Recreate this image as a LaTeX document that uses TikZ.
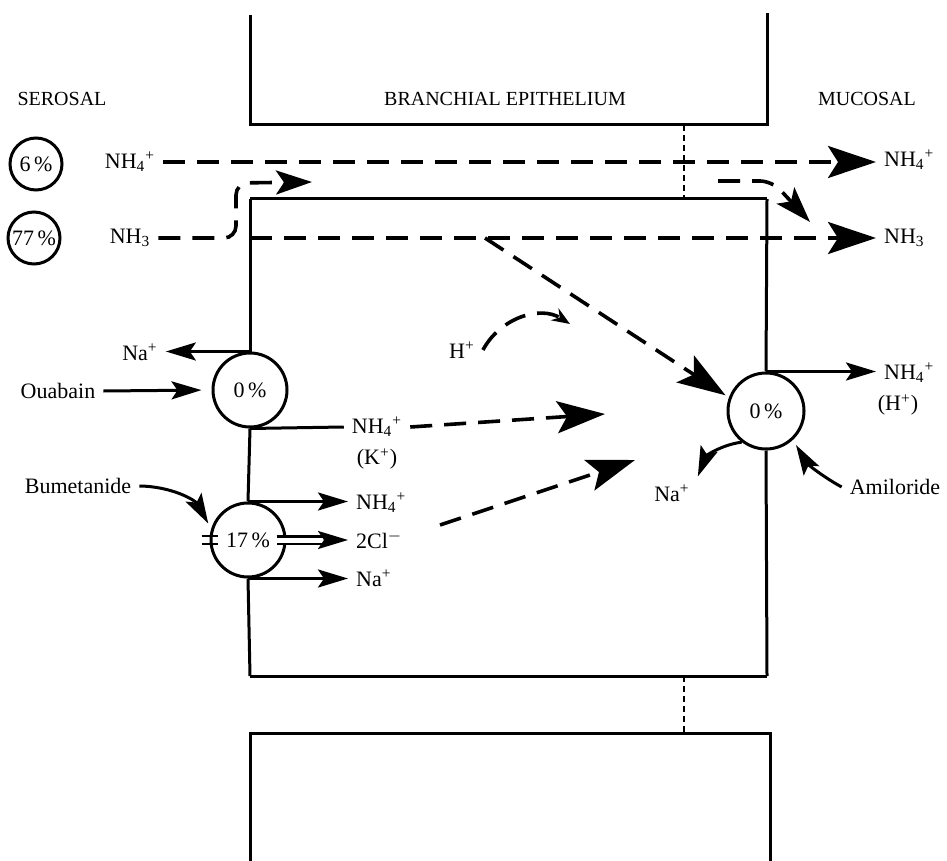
\documentclass[tikz,border=0pt]{standalone}
\usepackage{fontspec}
\setmainfont{Liberation Serif}
\usetikzlibrary{arrows.meta, positioning}

\newcommand{\ammon}{NH\textsubscript{4}\textsuperscript{+}}

\begin{document}
\begin{tikzpicture}[x=0.5pt, y=-0.5pt, line width=1.5pt, font=\fontsize{11}{13}\selectfont,
  flux/.style={line width=1.8pt, dash pattern=on 11pt off 6pt},
  junction/.style={line width=1.3pt, dash pattern=on 3pt off 2pt},
  bigtip/.style={-{Stealth[length=24pt, width=16pt, inset=5pt]}},
  midtip/.style={-{Stealth[length=18pt, width=12pt, inset=4pt]}},
  tip/.style={-{Stealth[length=15pt, width=9pt, inset=3pt]}},
  pump/.style={draw, circle, inner sep=0pt, minimum size=#1}]
  \useasboundingbox (0,0) rectangle (947,861);

  % cells and junctions
  \draw (250,15) -- (250,125) -- (767,125) -- (767,13);
  \draw (250,199) -- (767,199);
  \draw (250,676) -- (767,676);
  \draw (250,861) -- (250,733) -- (770,733) -- (770,861);
  \draw[junction] (684,125) -- (684,199);
  \draw[junction] (684,676) -- (684,733);

  \node[font=\fontsize{10}{12}\selectfont] (ser) at (62,99) {SEROSAL};
  \node[font=\fontsize{10}{12}\selectfont] (epi) at (505,99) {BRANCHIAL EPITHELIUM};
  \node[font=\fontsize{10}{12}\selectfont] (muc) at (867,99) {MUCOSAL};

  % serosal pools
  \node[pump=26pt] (c6) at (36,164) {6\,\%};
  \node[pump=26pt] (c77) at (34,238) {77\,\%};
  \node (nh4s) at (130,162) {\ammon};
  \node (nh3s) at (130,238) {NH\textsubscript{3}};
  \node[anchor=west] (nh4m) at (876,160) {\ammon};
  \node[anchor=west] (nh3m) at (876,238) {NH\textsubscript{3}};

  \coordinate (ap) at (250,238);
  \coordinate (turn) at (485,238);
  \coordinate (inA) at (312,182);
  \coordinate (outA) at (718,181);
  \coordinate (outB) at (810,222);

  \draw[flux, bigtip] (nh4s.east) -- (nh4s.east -| nh4m.west);
  \draw[flux, bigtip] (ap) -- (nh3m.west);
  \draw[flux, midtip, rounded corners=6pt] (nh3s.east) -| (236,183) -- (inA);
  \draw[flux, midtip, rounded corners=6pt] (outA) -- (772,181) -- (outB);

  % basolateral pump
  \node[pump=37pt] (p0l) at (250,390) {0\,\%};
  \draw (250,199) -- (p0l.north);
  \node (nal) at (140,352) {Na\textsuperscript{+}};
  \draw[tip] (p0l.north) -- (p0l.north -| nal.east);
  \node (oua) at (58,391) {Ouabain};
  \draw[tip, shorten >=5pt] (oua.east) -- (p0l.west);
  \node (nh4k) at (377,427) {\ammon};
  \node (kp) at (377,459) {(K\textsuperscript{+})};
  \draw (p0l.south) -- (nh4k.west);
  \coordinate (kend) at (605,414);
  \draw[flux, bigtip] (nh4k.east) -- (kend);

  % cotransporter
  \node[pump=37pt] (p17) at (248,540) {17\,\%};
  \draw (p0l.south) -- (p17.north);
  \draw (p17.south) -- (250,676);
  \node[anchor=west] (onh4) at (348,503) {\ammon};
  \node[anchor=west] (ocl) at (348,540) {2Cl\textsuperscript{$-$}};
  \node[anchor=west] (ona) at (348,578) {Na\textsuperscript{+}};
  \draw[tip] (p17.north) -- (p17.north -| onh4.west);
  \draw[tip] (p17.south) -- (p17.south -| ona.west);
  \draw[tip, double, double distance=2.5pt, line width=1.2pt] ([xshift=-5pt]p17.east) -- (ocl.west);
  \draw[line width=1.1pt] ([xshift=-4pt, yshift=1.9pt]p17.west) -- ++(8pt,0);
  \draw[line width=1.1pt] ([xshift=-4pt, yshift=-1.9pt]p17.west) -- ++(8pt,0);
  \node (bum) at (78,486) {Bumetanide};
  \draw[tip, shorten >=3pt] (bum.east) to[bend left=30] (p17.163);
  \coordinate (cl0) at (440,525);
  \coordinate (cl1) at (635,460);
  \draw[flux, bigtip] (cl0) -- (cl1);

  % apical exchanger
  \node[pump=38pt] (p0r) at (766,411) {0\,\%};
  \draw (767,199) -- (p0r.north);
  \draw (p0r.south) -- (767,676);
  \node[anchor=west] (onh4r) at (876,373) {\ammon};
  \node (ohr) at (898,405) {(H\textsuperscript{+})};
  \draw[tip] (p0r.north) -- (p0r.north -| onh4r.west);
  \node (nar) at (672,493) {Na\textsuperscript{+}};
  \draw[tip] (p0r.-128) to[bend right=30] (nar.north east);
  \node (ami) at (895,487) {Amiloride};
  \draw[tip, shorten >=3pt] (ami.west) to[bend left=15] (p0r.-47);
  \draw[flux, bigtip, shorten >=2pt] (turn) -- (p0r.160);

  % proton into the cell
  \node (hp) at (462,350) {H\textsuperscript{+}};
  \coordinate (hit) at (570,324);
  \draw[flux, -{Stealth[length=9pt, width=7pt]}] (hp.east) .. controls (500,318) and (540,305) .. (hit);
\end{tikzpicture}
\end{document}
